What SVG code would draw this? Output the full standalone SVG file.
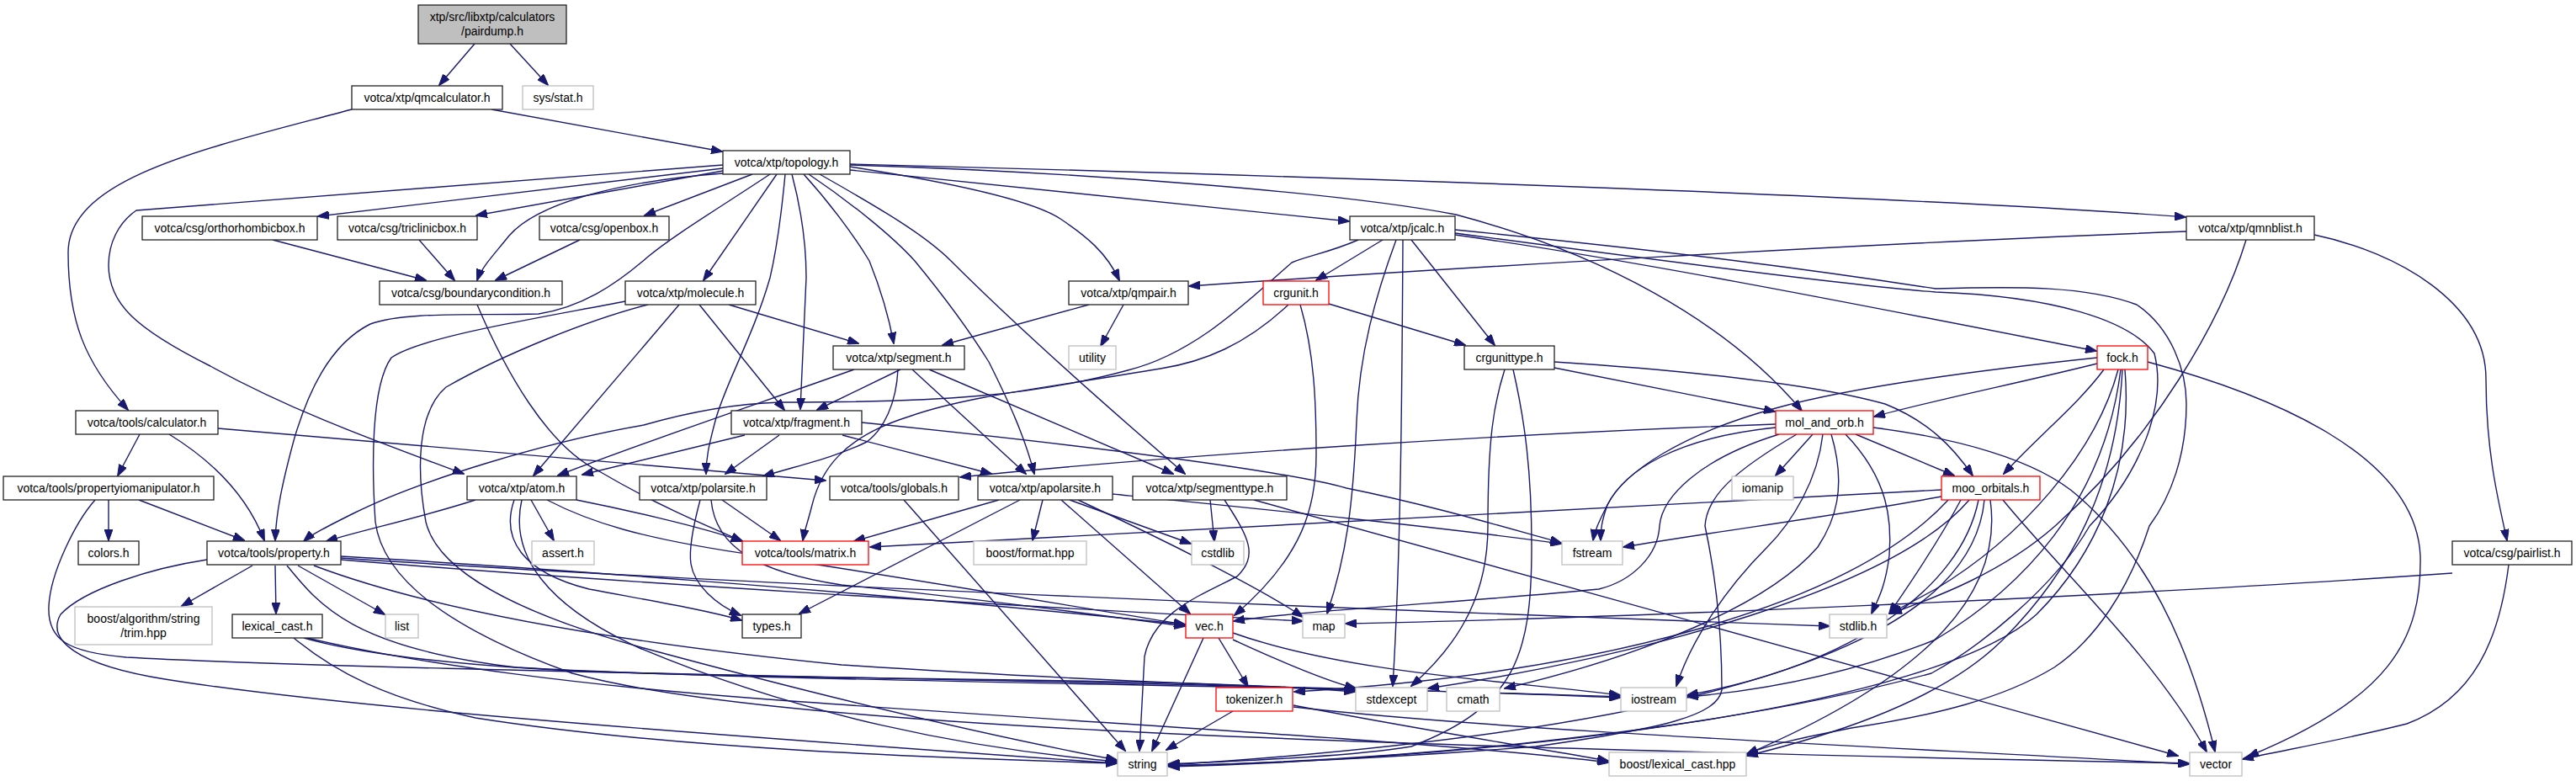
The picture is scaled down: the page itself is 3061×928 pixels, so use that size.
<svg xmlns="http://www.w3.org/2000/svg" width="3061" height="928" viewBox="0 0 3061 928">
<defs>
<marker id="a" markerWidth="14" markerHeight="10" refX="13" refY="5" orient="auto" markerUnits="userSpaceOnUse"><path d="M0,0 L14,5 L0,10 z" fill="#191970" stroke="#191970" stroke-width="1"/></marker>
<style>
.e path{fill:none;stroke:#191970;stroke-width:1.4;marker-end:url(#a)}
.n rect{fill:#fff;stroke:#222;stroke-width:1.3}
.g rect{stroke:#bfbfbf}
.r rect{stroke:#ff0000}
.d rect{fill:#bfbfbf}
text{font-family:"Liberation Sans",Arial,sans-serif;font-size:14px;text-anchor:middle;fill:#000}
</style>
</defs>
<rect width="3061" height="928" fill="#fff"/>
<g class="e" id="edges">
<path d="M564,52 L522,101"/>
<path d="M606,52 L651,101"/>
<path d="M418,130 C250,175 81,210 81,300 C81,380 100,430 152,487"/>
<path d="M584,130 L858,180"/>
<path d="M166,516 L140,565"/>
<path d="M201,516 C240,540 290,580 314,642"/>
<path d="M259,509 L981,571"/>
<path d="M129,594 L129,642"/>
<path d="M165,594 L290,642"/>
<path d="M113,594 C90,620 60,680 58,720 C56,760 80,775 150,781 C500,800 1500,810 1925,829"/>
<path d="M859,200 L378,257"/>
<path d="M859,203 L566,256"/>
<path d="M894,207 L766,256"/>
<path d="M859,206 C740,215 640,240 605,280 C585,305 572,318 567,333"/>
<path d="M859,196 L162,250 C140,265 129,290 129,315 C129,360 160,390 250,435 C350,490 450,525 551,563"/>
<path d="M915,207 C850,250 800,280 770,305 C730,340 690,365 640,373 C560,375 480,370 440,385 C390,410 365,470 350,520 C335,575 328,610 327,642"/>
<path d="M923,207 L836,333"/>
<path d="M933,207 C928,260 922,300 915,330 C895,400 860,460 850,500 C842,530 839,545 839,563"/>
<path d="M941,207 C955,260 958,300 958,330 L951,486"/>
<path d="M955,207 C985,240 1015,280 1033,310 C1045,340 1055,370 1062,408"/>
<path d="M961,207 C1010,240 1060,280 1087,310 C1120,350 1150,390 1175,430 C1200,480 1218,520 1229,563"/>
<path d="M974,207 C1050,250 1100,280 1130,310 C1200,380 1300,470 1408,563"/>
<path d="M1010,198 C1150,220 1230,240 1260,260 C1290,280 1315,300 1330,333"/>
<path d="M1010,202 L1603,263"/>
<path d="M1010,196 C1300,205 1600,230 1730,255 C1900,300 2050,380 2141,488"/>
<path d="M1010,195 C1600,210 2300,235 2597,258"/>
<path d="M324,285 L506,333"/>
<path d="M498,285 L540,333"/>
<path d="M689,285 L589,333"/>
<path d="M567,362 C600,440 650,530 712,560 C780,600 840,625 882,643"/>
<path d="M866,362 L1020,408"/>
<path d="M831,362 L932,487"/>
<path d="M807,362 L634,565"/>
<path d="M743,358 C640,378 500,400 465,425 C440,460 442,560 446,620 C455,690 540,750 680,800 C900,860 1500,885 2601,907"/>
<path d="M770,362 C700,380 600,420 530,460 C495,490 495,560 506,620 C520,680 620,730 765,770 C950,820 1150,870 1327,903"/>
<path d="M1070,439 L971,487"/>
<path d="M1015,439 C900,480 780,520 663,565"/>
<path d="M1067,439 C1065,480 1050,510 1030,525 C990,545 940,555 907,566"/>
<path d="M1084,439 L1219,563"/>
<path d="M1104,439 L1394,563"/>
<path d="M1294,362 L1120,410"/>
<path d="M1335,362 L1308,411"/>
<path d="M1579,361 L1741,410"/>
<path d="M1545,362 C1562,420 1564,480 1564,540 C1564,600 1550,660 1467,731"/>
<path d="M1531,362 C1480,410 1430,430 1379,438 C1250,460 1150,470 1080,495 C1000,520 975,560 965,600 C960,620 956,630 954,642"/>
<path d="M1643,285 L1564,333"/>
<path d="M1659,285 C1635,350 1615,420 1612,500 C1608,600 1600,660 1577,729"/>
<path d="M1667,285 C1666,450 1665,650 1655,815"/>
<path d="M1677,285 L1776,410"/>
<path d="M1614,285 C1580,300 1550,305 1535,312 C1480,360 1420,420 1340,440 C1230,470 1120,478 927,478 C860,480 800,495 765,505 C650,525 500,570 420,610 C390,625 370,635 361,643"/>
<path d="M1729,279 C1950,310 2250,370 2491,417"/>
<path d="M1729,273 C2000,300 2150,320 2300,343 C2400,340 2480,340 2539,362 C2580,390 2598,440 2598,480 C2598,540 2580,590 2554,625 C2530,700 2490,760 2441,793 C2380,830 2300,850 2200,865 C2150,875 2100,885 2076,896"/>
<path d="M1729,277 C1900,300 2200,340 2300,347 C2440,352 2530,380 2560,420 C2575,480 2545,560 2483,625 C2440,700 2350,770 2295,800 C2000,880 1600,905 1388,910"/>
<path d="M1847,437 L2109,489"/>
<path d="M1847,430 C2000,440 2150,455 2240,480 C2290,500 2320,530 2344,565"/>
<path d="M1788,439 C1775,480 1768,520 1768,625 C1768,700 1740,760 1677,815"/>
<path d="M1798,439 C1812,500 1820,560 1820,650 C1820,780 1800,840 1677,887 C1600,900 1450,905 1388,908"/>
<path d="M2154,516 L2110,565"/>
<path d="M2110,504 C1800,515 1400,540 1141,567"/>
<path d="M2110,508 C1990,520 1930,560 1910,600 C1900,620 1895,630 1893,642"/>
<path d="M2114,516 C2020,545 1975,590 1972,625 C1970,660 1940,690 1900,700 C1750,715 1550,725 1466,738"/>
<path d="M2135,516 C2060,560 2028,590 2026,625 C2040,690 2046,760 2046,820 C2040,850 1980,865 1825,887 C1600,905 1450,908 1389,910"/>
<path d="M2166,516 C2160,570 2130,620 2100,650 C2050,700 2010,760 1992,815"/>
<path d="M2176,516 C2195,580 2180,620 2160,650 C2100,720 1950,780 1788,818"/>
<path d="M2193,516 C2245,570 2248,620 2245,660 C2240,700 2230,715 2224,729"/>
<path d="M2205,516 L2322,565"/>
<path d="M2226,508 C2320,520 2420,545 2470,590 C2550,660 2600,760 2632,893"/>
<path d="M2492,432 C2400,455 2300,475 2227,495"/>
<path d="M2492,425 C2350,440 2200,460 2110,485 C2000,515 1930,560 1910,600 C1903,620 1902,630 1902,642"/>
<path d="M2500,439 C2470,480 2420,520 2381,563"/>
<path d="M2552,430 C2700,470 2870,540 2876,660 C2878,760 2840,830 2671,899"/>
<path d="M2517,439 C2490,540 2400,640 2300,700 L2246,729"/>
<path d="M2520,439 C2500,600 2400,700 2300,760 C2200,800 2100,820 2005,828"/>
<path d="M2525,439 C2535,560 2490,660 2420,730 C2300,840 1800,900 1389,911"/>
<path d="M2522,439 C2515,580 2460,680 2380,760 C2300,840 2150,880 2076,898"/>
<path d="M2307,582 L1034,650"/>
<path d="M2315,594 C2200,720 1900,800 1538,822"/>
<path d="M2307,590 C2200,610 2050,630 1929,650"/>
<path d="M2330,594 C2300,650 2265,700 2245,729"/>
<path d="M2351,594 C2330,700 2200,790 2005,826"/>
<path d="M2358,594 C2345,730 2150,860 1389,909"/>
<path d="M2380,594 C2450,680 2560,780 2622,893"/>
<path d="M2340,594 C2250,700 1950,780 1697,818"/>
<path d="M2365,594 C2380,700 2300,800 2076,896"/>
<path d="M2598,275 C2200,290 1700,320 1413,340"/>
<path d="M2750,279 C2850,300 2954,360 2954,450 C2954,540 2970,600 2979,642"/>
<path d="M2669,285 C2640,380 2560,520 2442,625 C2380,680 2300,710 2247,729"/>
<path d="M2914,681 C2500,710 1900,735 1599,741"/>
<path d="M2981,671 C2970,760 2940,830 2860,860 C2780,880 2720,890 2665,902"/>
<path d="M1430,758 L1369,892"/>
<path d="M1448,758 L1483,816"/>
<path d="M1465,752 C1600,800 1800,810 1925,826"/>
<path d="M1465,760 C1530,790 1580,810 1611,818"/>
<path d="M1465,845 L1386,891"/>
<path d="M1537,838 C1650,860 1800,885 1911,904"/>
<path d="M1537,840 C1800,870 2300,890 2601,908"/>
<path d="M349,758 C400,800 460,830 565,853 C800,890 1100,900 1327,907"/>
<path d="M361,758 C420,775 550,795 770,800 C1100,810 1400,805 1610,822"/>
<path d="M365,758 C500,790 700,815 900,830 C1300,860 1700,880 1911,906"/>
<path d="M1074,594 L1337,892"/>
<path d="M631,594 L658,642"/>
<path d="M565,594 C500,615 430,630 388,643"/>
<path d="M611,594 C595,640 620,680 700,700 C780,715 840,725 881,737"/>
<path d="M620,594 C605,660 650,720 760,770 C950,850 1150,890 1328,905"/>
<path d="M685,594 C740,605 830,625 882,643"/>
<path d="M650,594 C700,620 760,640 900,660 C1100,690 1300,725 1408,742"/>
<path d="M858,594 L927,642"/>
<path d="M832,594 C825,620 818,650 821,670 C825,695 850,718 880,731"/>
<path d="M845,594 C850,650 900,680 1000,695 C1200,715 1330,735 1408,744"/>
<path d="M1187,594 L1015,643"/>
<path d="M1212,594 L950,729"/>
<path d="M1239,594 L1227,642"/>
<path d="M1261,594 L1414,729"/>
<path d="M1271,594 L1415,646"/>
<path d="M1281,594 C1380,640 1500,700 1548,733"/>
<path d="M1322,587 C1500,605 1700,625 1855,646"/>
<path d="M1438,594 L1443,643"/>
<path d="M1455,594 C1485,640 1495,660 1470,685 C1420,710 1370,730 1360,780 L1354,892"/>
<path d="M1490,594 L2588,898"/>
<path d="M885,517 L692,564"/>
<path d="M926,517 L862,563"/>
<path d="M1001,517 L1178,563"/>
<path d="M1024,502 C1300,530 1530,560 1600,580 C1700,600 1800,630 1855,645"/>
<path d="M300,672 L216,720"/>
<path d="M327,672 L328,729"/>
<path d="M354,672 L457,730"/>
<path d="M246,665 C180,675 100,700 72,730 C55,760 90,790 196,807 C400,840 800,870 1327,907"/>
<path d="M405,661 C600,672 1000,700 1408,742"/>
<path d="M405,663 C800,690 1500,720 2174,744"/>
<path d="M405,665 C700,690 1200,720 1548,738"/>
<path d="M373,672 C500,720 700,760 1000,790 C1300,810 1500,815 1611,820"/>
<path d="M341,672 C380,720 420,770 614,793 C900,810 1600,815 1925,828"/>
</g>
<g id="n-pairdump" class="n d"><rect x="497" y="6" width="176" height="46"/><text x="585" y="25">xtp/src/libxtp/calculators</text><text x="585" y="42">/pairdump.h</text></g>
<g id="n-qmcalculator" class="n"><rect x="418" y="102" width="179" height="28"/><text x="507.5" y="121">votca/xtp/qmcalculator.h</text></g>
<g id="n-sysstat" class="n g"><rect x="621" y="102" width="84" height="28"/><text x="663" y="121">sys/stat.h</text></g>
<g id="n-topology" class="n"><rect x="859" y="179" width="151" height="28"/><text x="934.5" y="198">votca/xtp/topology.h</text></g>
<g id="n-orthorhombicbox" class="n"><rect x="169" y="257" width="208" height="28"/><text x="273" y="276">votca/csg/orthorhombicbox.h</text></g>
<g id="n-triclinicbox" class="n"><rect x="401" y="257" width="166" height="28"/><text x="484" y="276">votca/csg/triclinicbox.h</text></g>
<g id="n-openbox" class="n"><rect x="641" y="257" width="154" height="28"/><text x="718" y="276">votca/csg/openbox.h</text></g>
<g id="n-jcalc" class="n"><rect x="1604" y="257" width="125" height="28"/><text x="1666.5" y="276">votca/xtp/jcalc.h</text></g>
<g id="n-qmnblist" class="n"><rect x="2598" y="257" width="152" height="28"/><text x="2674" y="276">votca/xtp/qmnblist.h</text></g>
<g id="n-boundarycondition" class="n"><rect x="451" y="334" width="217" height="28"/><text x="559.5" y="353">votca/csg/boundarycondition.h</text></g>
<g id="n-molecule" class="n"><rect x="743" y="334" width="155" height="28"/><text x="820.5" y="353">votca/xtp/molecule.h</text></g>
<g id="n-qmpair" class="n"><rect x="1270" y="334" width="142" height="28"/><text x="1341" y="353">votca/xtp/qmpair.h</text></g>
<g id="n-crgunit" class="n r"><rect x="1501" y="334" width="78" height="28"/><text x="1540" y="353">crgunit.h</text></g>
<g id="n-segment" class="n"><rect x="990" y="411" width="156" height="28"/><text x="1068" y="430">votca/xtp/segment.h</text></g>
<g id="n-utility" class="n g"><rect x="1270" y="411" width="56" height="28"/><text x="1298" y="430">utility</text></g>
<g id="n-crgunittype" class="n"><rect x="1740" y="411" width="107" height="28"/><text x="1793.5" y="430">crgunittype.h</text></g>
<g id="n-fock" class="n r"><rect x="2492" y="411" width="60" height="28"/><text x="2522" y="430">fock.h</text></g>
<g id="n-calculator" class="n"><rect x="90" y="488" width="169" height="28"/><text x="174.5" y="507">votca/tools/calculator.h</text></g>
<g id="n-fragment" class="n"><rect x="869" y="488" width="155" height="28"/><text x="946.5" y="507">votca/xtp/fragment.h</text></g>
<g id="n-mol_and_orb" class="n r"><rect x="2110" y="488" width="116" height="28"/><text x="2168" y="507">mol_and_orb.h</text></g>
<g id="n-propertyiomanipulator" class="n"><rect x="4" y="566" width="250" height="28"/><text x="129" y="585">votca/tools/propertyiomanipulator.h</text></g>
<g id="n-atom" class="n"><rect x="555" y="566" width="130" height="28"/><text x="620" y="585">votca/xtp/atom.h</text></g>
<g id="n-polarsite" class="n"><rect x="760" y="566" width="151" height="28"/><text x="835.5" y="585">votca/xtp/polarsite.h</text></g>
<g id="n-globals" class="n"><rect x="986" y="566" width="153" height="28"/><text x="1062.5" y="585">votca/tools/globals.h</text></g>
<g id="n-apolarsite" class="n"><rect x="1162" y="566" width="160" height="28"/><text x="1242" y="585">votca/xtp/apolarsite.h</text></g>
<g id="n-segmenttype" class="n"><rect x="1346" y="566" width="183" height="28"/><text x="1437.5" y="585">votca/xtp/segmenttype.h</text></g>
<g id="n-iomanip" class="n g"><rect x="2058" y="566" width="73" height="28"/><text x="2094.5" y="585">iomanip</text></g>
<g id="n-moo_orbitals" class="n r"><rect x="2307" y="566" width="117" height="28"/><text x="2365.5" y="585">moo_orbitals.h</text></g>
<g id="n-colors" class="n"><rect x="93" y="643" width="72" height="28"/><text x="129" y="662">colors.h</text></g>
<g id="n-property" class="n"><rect x="246" y="643" width="159" height="28"/><text x="325.5" y="662">votca/tools/property.h</text></g>
<g id="n-assert" class="n g"><rect x="632" y="643" width="74" height="28"/><text x="669" y="662">assert.h</text></g>
<g id="n-matrix" class="n r"><rect x="882" y="643" width="150" height="28"/><text x="957" y="662">votca/tools/matrix.h</text></g>
<g id="n-boostformat" class="n g"><rect x="1157" y="643" width="134" height="28"/><text x="1224" y="662">boost/format.hpp</text></g>
<g id="n-cstdlib" class="n g"><rect x="1416" y="643" width="62" height="28"/><text x="1447" y="662">cstdlib</text></g>
<g id="n-fstream" class="n g"><rect x="1856" y="643" width="72" height="28"/><text x="1892" y="662">fstream</text></g>
<g id="n-pairlist" class="n"><rect x="2914" y="643" width="142" height="28"/><text x="2985" y="662">votca/csg/pairlist.h</text></g>
<g id="n-trim" class="n g"><rect x="89" y="721" width="163" height="45"/><text x="170.5" y="740">boost/algorithm/string</text><text x="170.5" y="757">/trim.hpp</text></g>
<g id="n-lexical_cast" class="n"><rect x="276" y="730" width="107" height="28"/><text x="329.5" y="749">lexical_cast.h</text></g>
<g id="n-list" class="n g"><rect x="458" y="730" width="39" height="28"/><text x="477.5" y="749">list</text></g>
<g id="n-types" class="n"><rect x="882" y="730" width="70" height="28"/><text x="917" y="749">types.h</text></g>
<g id="n-vec" class="n r"><rect x="1409" y="730" width="56" height="28"/><text x="1437" y="749">vec.h</text></g>
<g id="n-map" class="n g"><rect x="1548" y="730" width="50" height="28"/><text x="1573" y="749">map</text></g>
<g id="n-stdlib" class="n g"><rect x="2174" y="730" width="68" height="28"/><text x="2208" y="749">stdlib.h</text></g>
<g id="n-tokenizer" class="n r"><rect x="1445" y="817" width="91" height="28"/><text x="1490.5" y="836">tokenizer.h</text></g>
<g id="n-stdexcept" class="n g"><rect x="1611" y="817" width="85" height="28"/><text x="1653.5" y="836">stdexcept</text></g>
<g id="n-cmath" class="n g"><rect x="1719" y="817" width="63" height="28"/><text x="1750.5" y="836">cmath</text></g>
<g id="n-iostream" class="n g"><rect x="1926" y="817" width="78" height="28"/><text x="1965" y="836">iostream</text></g>
<g id="n-string" class="n g"><rect x="1328" y="894" width="59" height="28"/><text x="1357.5" y="913">string</text></g>
<g id="n-boostlexicalcast" class="n g"><rect x="1912" y="894" width="163" height="28"/><text x="1993.5" y="913">boost/lexical_cast.hpp</text></g>
<g id="n-vector" class="n g"><rect x="2602" y="894" width="62" height="28"/><text x="2633" y="913">vector</text></g>
</svg>
